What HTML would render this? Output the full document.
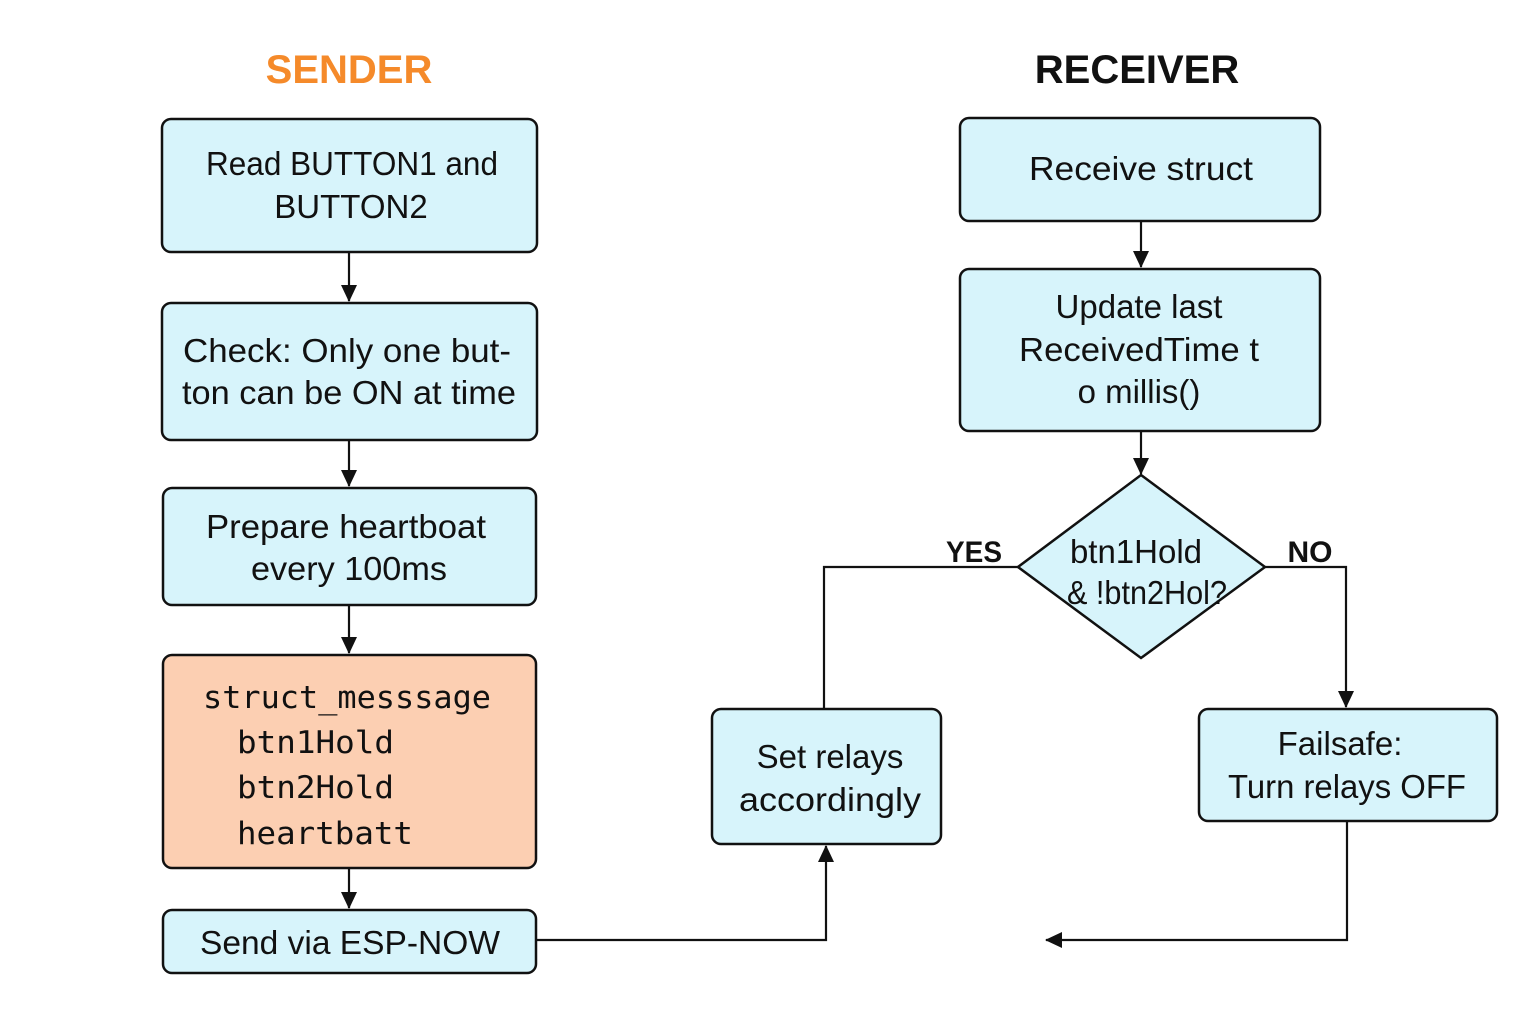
<!DOCTYPE html>
<html><head><meta charset="utf-8"><style>
html,body{margin:0;padding:0;background:#fff;}
svg{display:block;}
text{font-family:"Liberation Sans","DejaVu Sans",sans-serif;fill:#111;}
.m{font-family:"DejaVu Sans Mono","Liberation Mono",monospace;}
</style></head><body>
<svg width="1536" height="1024" viewBox="0 0 1536 1024" xmlns="http://www.w3.org/2000/svg">
<defs>
<marker id="b" markerWidth="18" markerHeight="18" refX="16" refY="9" orient="auto" markerUnits="userSpaceOnUse"><path d="M0,1 L17,9 L0,17 Z" fill="#111"/></marker></defs>
<g stroke="#111" stroke-width="2.5">
<rect x="162" y="119" width="375" height="133" rx="9" fill="#d7f4fb"/>
<rect x="162" y="303" width="375" height="137" rx="9" fill="#d7f4fb"/>
<rect x="163" y="488" width="373" height="117" rx="9" fill="#d7f4fb"/>
<rect x="163" y="655" width="373" height="213" rx="9" fill="#fccfb2"/>
<rect x="163" y="910" width="373" height="63" rx="9" fill="#d7f4fb"/>
<rect x="960" y="118" width="360" height="103" rx="9" fill="#d7f4fb"/>
<rect x="960" y="269" width="360" height="162" rx="9" fill="#d7f4fb"/>
<polygon points="1141,475 1265,567 1141,658 1018,567" fill="#d7f4fb"/>
<rect x="712" y="709" width="229" height="135" rx="9" fill="#d7f4fb"/>
<rect x="1199" y="709" width="298" height="112" rx="9" fill="#d7f4fb"/>
</g>
<g stroke="#111" stroke-width="2.2" fill="none">
<line x1="349" y1="252" x2="349" y2="301" marker-end="url(#b)"/>
<line x1="349" y1="440" x2="349" y2="486" marker-end="url(#b)"/>
<line x1="349" y1="605" x2="349" y2="653" marker-end="url(#b)"/>
<line x1="349" y1="868" x2="349" y2="908" marker-end="url(#b)"/>
<line x1="1141" y1="221" x2="1141" y2="267" marker-end="url(#b)"/>
<line x1="1141" y1="431" x2="1141" y2="474" marker-end="url(#b)"/>
<polyline points="537,940 826,940 826,846" marker-end="url(#b)"/>
<polyline points="1018,567 824,567 824,709"/>
<polyline points="1265,567 1346,567 1346,707" marker-end="url(#b)"/>
<polyline points="1347,821 1347,940 1046,940" marker-end="url(#b)"/>
</g>
<text x="349" y="83" text-anchor="middle" font-size="40" font-weight="bold" style="fill:#f58a2a">SENDER</text>
<text x="1137" y="83" text-anchor="middle" font-size="40" font-weight="bold">RECEIVER</text>
<g font-size="33" text-anchor="middle">
<text x="352" y="175" textLength="292" lengthAdjust="spacingAndGlyphs">Read BUTTON1 and</text>
<text x="351" y="218">BUTTON2</text>
<text x="347" y="362" textLength="328" lengthAdjust="spacingAndGlyphs">Check: Only one but-</text>
<text x="349" y="404" textLength="334" lengthAdjust="spacingAndGlyphs">ton can be ON at time</text>
<text x="346" y="538" textLength="280" lengthAdjust="spacingAndGlyphs">Prepare heartboat</text>
<text x="349" y="580" textLength="196" lengthAdjust="spacingAndGlyphs">every 100ms</text>
<text x="350" y="954" textLength="300" lengthAdjust="spacingAndGlyphs">Send via ESP-NOW</text>
<text x="1141" y="180" textLength="224" lengthAdjust="spacingAndGlyphs">Receive struct</text>
<text x="1139" y="318">Update last</text>
<text x="1139" y="361" textLength="240" lengthAdjust="spacingAndGlyphs">ReceivedTime t</text>
<text x="1139" y="403">o millis()</text>
<text x="1136" y="563">btn1Hold</text>
<text x="1147" y="604" textLength="160" lengthAdjust="spacingAndGlyphs">&amp; !btn2Hol?</text>
<text x="830" y="768">Set relays</text>
<text x="830" y="811" textLength="182" lengthAdjust="spacingAndGlyphs">accordingly</text>
<text x="1340" y="755">Failsafe:</text>
<text x="1347" y="798" textLength="238" lengthAdjust="spacingAndGlyphs">Turn relays OFF</text>
</g>
<g font-size="31">
<text x="203" y="708" class="m" textLength="288" lengthAdjust="spacingAndGlyphs">struct_messsage</text>
<text x="237" y="753" class="m" textLength="157" lengthAdjust="spacingAndGlyphs">btn1Hold</text>
<text x="237" y="798" class="m" textLength="157" lengthAdjust="spacingAndGlyphs">btn2Hold</text>
<text x="237" y="844" class="m" textLength="176" lengthAdjust="spacingAndGlyphs">heartbatt</text>
</g>
<text x="974" y="562" text-anchor="middle" font-size="30" font-weight="bold" textLength="56" lengthAdjust="spacingAndGlyphs">YES</text>
<text x="1310" y="562" text-anchor="middle" font-size="30" font-weight="bold">NO</text>
</svg>
</body></html>
